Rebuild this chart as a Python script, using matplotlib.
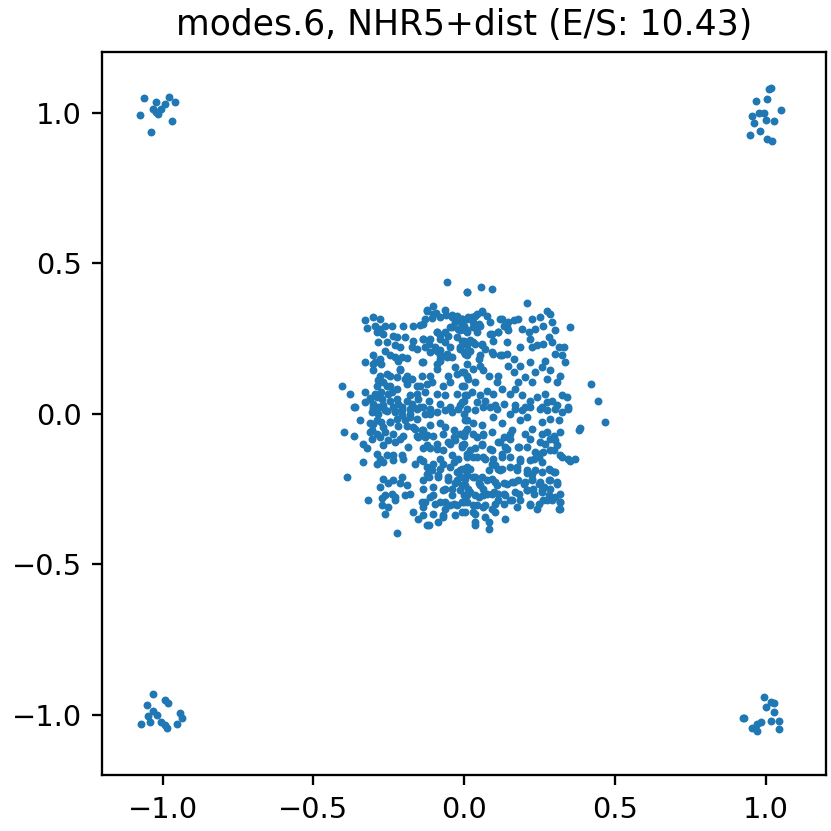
import matplotlib
matplotlib.use('Agg')
import matplotlib.pyplot as plt
import numpy as np

# corner clusters
corner_tl = [(-1.074, 0.992), (-1.060, 1.048), (-1.038, 0.935), (-0.968, 0.973), (-1.023, 1.034),
             (-1.030, 1.012), (-1.016, 0.996), (-1.004, 1.012), (-0.993, 1.029), (-0.977, 1.051),
             (-0.960, 1.036), (-1.021, 1.003)]
corner_tr = [(1.011, 1.079), (1.017, 1.082), (1.003, 1.045), (0.967, 1.037), (1.050, 1.009),
             (0.953, 0.990), (0.978, 0.998), (0.994, 1.000), (0.961, 0.965), (1.002, 0.976),
             (1.028, 0.971), (0.980, 0.940), (0.948, 0.924), (1.003, 0.913), (1.020, 0.905)]
corner_bl = [(-1.030, -0.930), (-0.993, -0.950), (-0.982, -0.959), (-1.052, -0.967), (-1.030, -0.986),
             (-1.019, -1.000), (-1.049, -1.003), (-1.043, -1.022), (-1.071, -1.031), (-1.004, -1.024),
             (-0.993, -1.033), (-0.986, -1.044), (-0.941, -0.994), (-0.936, -1.011), (-0.951, -1.031)]
corner_br = [(0.994, -0.941), (1.017, -0.958), (1.028, -0.961), (1.000, -0.974), (1.028, -0.991),
             (0.928, -1.009), (0.925, -1.011), (1.017, -1.019), (1.044, -1.019), (0.986, -1.024),
             (0.970, -1.031), (0.956, -1.042), (0.972, -1.052), (1.044, -1.047)]

# central blob, one list per quadrant
center_ul = [(-0.058,0.437),(0.009,0.406),(-0.104,0.357),(-0.063,0.346),(-0.124,0.340),(-0.093,0.334),(-0.129,0.315),
             (-0.107,0.317),(-0.080,0.321),(-0.060,0.328),(-0.041,0.321),(-0.024,0.326),(-0.030,0.304),(-0.008,0.315),
             (-0.041,0.288),(-0.019,0.282),(-0.002,0.293),(0.009,0.271),(-0.052,0.260),(-0.024,0.254),(-0.008,0.243),
             (0.009,0.232),(-0.329,0.310),(-0.301,0.321),(-0.279,0.315),(-0.323,0.284),(-0.296,0.293),(-0.279,0.282),
             (-0.262,0.293),(-0.240,0.293),(-0.201,0.291),(-0.168,0.293),(-0.146,0.295),(-0.290,0.271),(-0.268,0.265),
             (-0.235,0.260),(-0.224,0.254),(-0.196,0.254),(-0.285,0.238),(-0.257,0.238),(-0.229,0.227),(-0.213,0.221),
             (-0.168,0.243),(-0.135,0.249),(-0.113,0.249),(-0.091,0.271),(-0.080,0.249),(-0.063,0.238),(-0.046,0.221),
             (-0.262,0.210),(-0.246,0.194),(-0.229,0.188),(-0.207,0.188),(-0.174,0.221),(-0.157,0.216),(-0.129,0.221),
             (-0.113,0.205),(-0.091,0.210),(-0.080,0.194),(-0.058,0.188),(-0.013,0.221),(0.009,0.194),(-0.303,0.194),
             (-0.329,0.171),(-0.301,0.166),(-0.279,0.183),(-0.218,0.177),(-0.190,0.185),(-0.141,0.171),(-0.091,0.166),
             (-0.091,0.149),(-0.080,0.177),(-0.030,0.155),(-0.008,0.138),(0.009,0.127),(-0.024,0.133),(-0.279,0.127),
             (-0.257,0.133),(-0.213,0.144),(-0.190,0.127),(-0.174,0.116),(-0.141,0.127),(-0.113,0.127),(-0.107,0.105),
             (-0.052,0.127),(-0.046,0.105),(-0.069,0.094),(-0.008,0.094),(-0.406,0.094),(-0.379,0.066),(-0.329,0.074),
             (-0.290,0.094),(-0.268,0.105),(-0.246,0.094),(-0.224,0.083),(-0.190,0.100),(-0.157,0.094),(-0.124,0.100),
             (-0.251,0.066),(-0.296,0.066),(-0.312,0.052),(-0.273,0.050),(-0.224,0.050),(-0.179,0.061),(-0.152,0.050),
             (-0.118,0.044),(-0.091,0.066),(-0.063,0.061),(-0.024,0.066),(0.003,0.061),(-0.329,0.039),(-0.362,0.024),
             (-0.301,0.022),(-0.268,0.028),(-0.235,0.022),(-0.207,0.022),(-0.174,0.033),(-0.146,0.022),(-0.113,0.017),
             (-0.080,0.033),(-0.046,0.022),(-0.013,0.028),(-0.002,0.044)]
center_ur = [(0.011,0.406),(0.055,0.420),(0.092,0.413),(0.210,0.368),(0.274,0.340),(0.285,0.332),(0.350,0.288),
             (-0.008,0.315),(0.014,0.321),(0.036,0.326),(0.059,0.343),(0.075,0.324),(0.031,0.304),(0.053,0.293),
             (0.009,0.277),(0.042,0.271),(-0.002,0.243),(0.031,0.238),(0.059,0.232),(0.092,0.265),(0.086,0.304),
             (0.120,0.315),(0.131,0.293),(0.147,0.304),(0.164,0.310),(0.180,0.315),(0.191,0.282),(0.147,0.277),
             (0.114,0.271),(0.097,0.243),(0.142,0.238),(0.186,0.221),(0.125,0.194),(0.142,0.199),(0.097,0.199),
             (0.164,0.183),(0.147,0.160),(0.164,0.138),(0.186,0.160),(0.219,0.171),(0.225,0.221),(0.241,0.227),
             (0.219,0.249),(0.214,0.271),(0.236,0.282),(0.225,0.315),(0.252,0.321),(0.263,0.293),(0.291,0.304),
             (0.302,0.277),(0.280,0.254),(0.263,0.232),(0.291,0.238),(0.313,0.221),(0.330,0.221),(0.324,0.194),
             (0.302,0.199),(0.335,0.171),(0.269,0.177),(0.258,0.155),(0.285,0.144),(0.319,0.127),(0.308,0.105),
             (0.274,0.116),(0.236,0.138),(0.225,0.105),(0.202,0.122),(0.180,0.105),(0.169,0.083),(0.153,0.066),
             (0.125,0.083),(0.108,0.105),(0.114,0.127),(0.081,0.127),(0.064,0.144),(0.053,0.160),(0.031,0.149),
             (0.009,0.166),(-0.002,0.138),(0.014,0.116),(0.036,0.105),(-0.002,0.094),(0.025,0.072),(0.053,0.061),
             (0.075,0.077),(0.097,0.066),(0.070,0.044),(0.042,0.039),(0.009,0.061),(-0.008,0.039),(0.103,0.028),
             (0.131,0.033),(0.169,0.028),(0.191,0.061),(0.219,0.044),(0.241,0.055),(0.269,0.066),(0.274,0.039),
             (0.291,0.044),(0.308,0.028),(0.324,0.061),(0.341,0.055),(0.346,0.022),(0.258,0.022),(0.202,0.022),
             (0.421,0.100),(0.443,0.043),(-0.002,0.205),(0.020,0.210),(0.048,0.183),(0.009,0.227),(0.070,0.216),
             (0.053,0.194)]
center_ll = [(-0.365,0.023),(-0.301,0.017),(-0.285,0.023),(-0.262,0.012),(-0.229,0.006),(-0.207,0.012),(-0.179,0.017),
             (-0.157,0.017),(-0.135,0.023),(-0.113,0.001),(-0.091,0.006),(-0.063,0.012),(-0.041,0.006),(-0.019,0.017),
             (-0.002,0.001),(0.009,-0.021),(-0.345,-0.021),(-0.399,-0.060),(-0.365,-0.073),(-0.312,-0.032),(-0.290,-0.021),
             (-0.307,-0.055),(-0.268,-0.044),(-0.246,-0.027),(-0.224,-0.016),(-0.196,-0.021),(-0.179,-0.010),(-0.163,-0.049),
             (-0.141,-0.055),(-0.124,-0.071),(-0.113,-0.038),(-0.080,-0.032),(-0.063,-0.044),(-0.035,-0.055),(-0.013,-0.066),
             (0.009,-0.049),(-0.334,-0.099),(-0.323,-0.115),(-0.307,-0.082),(-0.279,-0.077),(-0.251,-0.088),(-0.229,-0.093),
             (-0.213,-0.082),(-0.268,-0.104),(-0.290,-0.132),(-0.279,-0.149),(-0.257,-0.138),(-0.235,-0.138),(-0.207,-0.135),
             (-0.185,-0.110),(-0.152,-0.077),(-0.135,-0.115),(-0.113,-0.115),(-0.091,-0.099),(-0.052,-0.093),(-0.030,-0.088),
             (-0.008,-0.110),(0.009,-0.132),(-0.069,-0.121),(-0.041,-0.138),(-0.019,-0.149),(-0.334,-0.160),(-0.290,-0.165),
             (-0.268,-0.160),(-0.235,-0.154),(-0.201,-0.149),(-0.163,-0.165),(-0.146,-0.149),(-0.124,-0.176),(-0.107,-0.187),
             (-0.080,-0.149),(-0.080,-0.182),(-0.046,-0.176),(-0.024,-0.193),(-0.002,-0.182),(0.009,-0.204),(-0.387,-0.209),
             (-0.268,-0.215),(-0.235,-0.220),(-0.207,-0.209),(-0.190,-0.237),(-0.213,-0.231),(-0.251,-0.231),(-0.279,-0.243),
             (-0.240,-0.265),(-0.262,-0.270),(-0.229,-0.276),(-0.179,-0.265),(-0.196,-0.270),(-0.135,-0.220),(-0.118,-0.209),
             (-0.085,-0.209),(-0.052,-0.220),(-0.030,-0.231),(-0.013,-0.209),(0.003,-0.237),(-0.063,-0.248),(-0.041,-0.270),
             (-0.002,-0.270),(-0.318,-0.287),(-0.273,-0.281),(-0.273,-0.304),(-0.262,-0.331),(-0.229,-0.287),(-0.251,-0.309),
             (-0.168,-0.326),(-0.152,-0.348),(-0.141,-0.292),(-0.135,-0.309),(-0.113,-0.276),(-0.102,-0.270),(-0.080,-0.292),
             (-0.063,-0.315),(-0.046,-0.304),(-0.024,-0.304),(-0.008,-0.326),(-0.069,-0.337),(-0.085,-0.359),(-0.118,-0.370),
             (-0.124,-0.370),(-0.224,-0.394)]
center_lr = [(0.009,0.017),(0.036,0.012),(0.064,0.023),(0.086,0.023),(0.108,0.017),(0.153,0.001),(0.169,0.017),
             (0.191,0.012),(0.219,0.023),(0.252,0.017),(0.274,0.012),(0.302,0.017),(0.324,0.006),(0.346,0.017),
             (0.468,-0.027),(0.383,-0.047),(0.003,-0.021),(0.031,-0.032),(0.059,-0.038),(0.097,-0.010),(0.125,-0.032),
             (0.158,-0.055),(0.186,-0.021),(0.208,-0.010),(0.225,-0.049),(0.258,-0.027),(0.285,-0.016),(0.313,-0.021),
             (0.319,-0.060),(0.302,-0.088),(0.274,-0.060),(0.252,-0.093),(0.285,-0.082),(0.003,-0.060),(0.042,-0.077),
             (0.064,-0.071),(-0.002,-0.099),(0.059,-0.104),(0.036,-0.115),(0.092,-0.121),(0.120,-0.093),(0.153,-0.082),
             (0.136,-0.110),(0.180,-0.110),(0.208,-0.110),(0.236,-0.127),(0.263,-0.127),(0.297,-0.121),(0.319,-0.138),
             (0.346,-0.149),(0.369,-0.149),(0.009,-0.143),(0.042,-0.143),(0.070,-0.149),(0.097,-0.149),(0.125,-0.132),
             (0.153,-0.143),(0.186,-0.149),(0.219,-0.154),(0.247,-0.143),(-0.008,-0.182),(0.020,-0.182),(0.003,-0.209),
             (0.036,-0.209),(0.059,-0.209),(0.081,-0.187),(0.103,-0.171),(0.120,-0.187),(0.153,-0.176),(0.175,-0.187),
             (0.208,-0.198),(0.236,-0.187),(0.258,-0.193),(0.285,-0.187),(0.302,-0.193),(-0.008,-0.237),(0.014,-0.248),
             (0.048,-0.231),(0.064,-0.248),(0.092,-0.215),(0.108,-0.237),(0.131,-0.231),(0.158,-0.226),(0.180,-0.220),
             (0.202,-0.226),(0.225,-0.215),(0.252,-0.226),(0.280,-0.220),(0.308,-0.226),(0.009,-0.270),(0.036,-0.270),
             (0.064,-0.270),(0.092,-0.265),(0.114,-0.265),(0.136,-0.270),(0.169,-0.259),(0.208,-0.254),(0.230,-0.248),
             (0.258,-0.254),(0.285,-0.248),(0.319,-0.265),(-0.008,-0.292),(0.009,-0.292),(0.042,-0.304),(0.070,-0.304),
             (0.103,-0.298),(0.131,-0.298),(0.158,-0.287),(0.186,-0.287),(0.219,-0.298),(0.247,-0.298),(0.263,-0.287),
             (0.291,-0.287),(0.319,-0.292),(0.319,-0.315),(0.031,-0.326),(0.103,-0.326),(0.136,-0.348),(0.036,-0.359),
             (0.081,-0.359),(0.081,-0.381),(0.036,-0.370)]

# extra points from the denser clumps
extra_top = [(-0.041,0.327),(-0.024,0.310),(-0.008,0.299),(0.009,0.316),(0.026,0.322),(0.042,0.333),(0.059,0.338),
             (-0.013,0.277),(0.003,0.277),(0.031,0.288),(0.048,0.299),(-0.046,0.288),(-0.063,0.272),(-0.080,0.261),
             (-0.091,0.272),(-0.102,0.333),(-0.124,0.344),(-0.135,0.299),(-0.135,0.250),(-0.118,0.233),(-0.096,0.222),
             (-0.080,0.211),(-0.057,0.200),(-0.041,0.189),(0.020,0.244),(0.037,0.233),(0.059,0.228),(0.087,0.266),
             (0.114,0.272),(0.125,0.316),(0.142,0.288),(0.120,0.194),(0.092,0.205),(-0.013,0.216),(0.003,0.200),
             (-0.135,0.172),(-0.080,0.183)]
extra_lr = [(0.131,-0.077),(0.153,-0.066),(0.142,-0.116),(0.126,-0.143),(0.181,-0.110),(0.203,-0.066),(0.220,-0.083),
            (0.258,-0.066),(0.297,-0.072),(0.308,-0.105),(0.269,-0.099),(0.286,-0.121),(0.247,-0.132),(0.231,-0.149),
            (0.258,-0.160),(0.186,-0.155),(0.175,-0.177),(0.209,-0.188),(0.225,-0.199),(0.281,-0.182),(0.297,-0.193),
            (0.325,-0.143),(0.352,-0.155),(0.164,-0.226),(0.197,-0.232),(0.225,-0.221),(0.247,-0.232),(0.264,-0.243),
            (0.286,-0.221),(0.308,-0.232),(0.142,-0.232),(0.131,-0.265),(0.153,-0.287),(0.181,-0.265),(0.209,-0.254),
            (0.231,-0.265),(0.258,-0.260),(0.281,-0.271),(0.303,-0.276),(0.319,-0.293),(0.175,-0.309),(0.220,-0.304),
            (0.242,-0.315),(0.275,-0.287),(0.314,-0.315),(0.380,-0.055),(0.126,-0.182)]
extra_left = [(-0.296,0.171),(-0.274,0.166),(-0.213,0.149),(-0.301,0.144),(-0.246,0.127),(-0.224,0.122),(-0.196,0.116),
              (-0.285,0.111),(-0.257,0.094),(-0.274,0.072),(-0.240,0.072),(-0.290,0.055),(-0.312,0.050),(-0.301,0.033),
              (-0.279,0.022),(-0.246,0.044),(-0.218,0.033),(-0.191,0.044),(-0.168,0.022),(-0.146,0.094),(-0.130,0.072),
              (-0.157,0.066),(-0.307,0.006),(-0.285,0.000),(-0.257,0.011),(-0.229,0.011),(-0.207,-0.005),(-0.180,0.000),
              (-0.157,-0.017),(-0.130,0.000),(-0.301,-0.033),(-0.274,-0.028),(-0.246,-0.028),(-0.218,-0.039),
              (-0.191,-0.039),(-0.168,-0.044),(-0.135,-0.055),(-0.312,-0.061),(-0.290,-0.066),(-0.263,-0.061),
              (-0.235,-0.066),(-0.202,-0.072),(-0.157,-0.072),(-0.130,-0.077)]
extra_mid = [(-0.135,-0.066),(-0.102,-0.072),(-0.069,-0.066),(-0.035,-0.077),(-0.002,-0.072),(0.031,-0.066),
             (0.064,-0.066),(0.092,-0.061),(-0.124,-0.105),(-0.091,-0.116),(-0.046,-0.099),(-0.008,-0.105),
             (0.020,-0.121),(0.059,-0.099),(0.086,-0.116),(0.114,-0.094),(-0.135,-0.155),(-0.102,-0.166),
             (-0.069,-0.166),(-0.035,-0.160),(-0.013,-0.188),(0.009,-0.177),(0.031,-0.143),(0.064,-0.143),
             (0.092,-0.166),(0.114,-0.182),(-0.124,-0.199),(-0.085,-0.204),(-0.052,-0.210),(-0.024,-0.221),
             (0.003,-0.215),(0.031,-0.210),(0.053,-0.237),(0.075,-0.221),(0.103,-0.226),(-0.135,-0.249),
             (-0.102,-0.243),(-0.069,-0.254),(-0.041,-0.249),(-0.013,-0.254),(0.020,-0.260),(0.048,-0.276),
             (0.075,-0.265),(0.098,-0.260),(0.114,-0.287),(-0.129,-0.293),(-0.096,-0.298),(-0.063,-0.293),
             (-0.035,-0.298),(-0.002,-0.293),(0.031,-0.304),(0.064,-0.309),(0.092,-0.315),(-0.135,-0.337),
             (-0.102,-0.331),(-0.069,-0.343),(-0.030,-0.337),(0.003,-0.326),(0.037,-0.331),(0.070,-0.343)]

title = "modes.6, NHR5+dist (E/S: 10.43)"

pts = np.array(corner_tl + corner_tr + corner_bl + corner_br
               + center_ul + center_ur + center_ll + center_lr
               + extra_top + extra_lr + extra_left + extra_mid)

fig = plt.figure(figsize=(4, 4), dpi=207.75)
ax = fig.add_axes([0.123, 0.067, 0.871, 0.870])
ax.scatter(pts[:, 0], pts[:, 1], s=7.5, color='C0', linewidths=0)
ax.set_xlim(-1.2, 1.2)
ax.set_ylim(-1.2, 1.2)
ax.set_xticks([-1.0, -0.5, 0.0, 0.5, 1.0])
ax.set_yticks([-1.0, -0.5, 0.0, 0.5, 1.0])
ax.set_title(title, fontsize=12)
fig.savefig('out.png', dpi=207.75)
